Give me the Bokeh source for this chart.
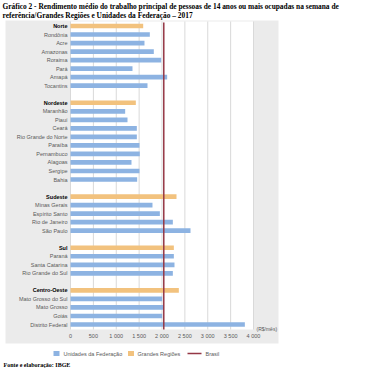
from bokeh.plotting import figure
from bokeh.models import Range1d, ColumnDataSource
from bokeh.core.properties import value
from bokeh.embed import file_html
from bokeh.resources import INLINE

# ---------------- data ----------------
regions = ["Norte", "Nordeste", "Sudeste", "Sul", "Centro-Oeste"]
region_values = [1589, 1428, 2317, 2259, 2368]
states_norte = ["Rondônia", "Acre", "Amazonas", "Roraima", "Pará", "Amapá", "Tocantins"]
values_norte = [1734, 1617, 1821, 1982, 1355, 2113, 1683]
states_nordeste = ["Maranhão", "Piauí", "Ceará", "Rio Grande do Norte", "Paraíba",
                   "Pernambuco", "Alagoas", "Sergipe", "Bahia"]
values_nordeste = [1195, 1246, 1450, 1450, 1508, 1515, 1333, 1508, 1457]
states_sudeste = ["Minas Gerais", "Espírito Santo", "Rio de Janeiro", "São Paulo"]
values_sudeste = [1792, 1953, 2237, 2623]
states_sul = ["Paraná", "Santa Catarina", "Rio Grande do Sul"]
values_sul = [2259, 2273, 2237]
states_co = ["Mato Grosso do Sul", "Mato Grosso", "Goiás", "Distrito Federal"]
values_co = [2004, 2040, 2004, 3811]
brasil = 2039
tick_values = [0, 500, 1000, 1500, 2000, 2500, 3000, 3500, 4000]
tick_labels = ["0", "500", "1 000", "1 500", "2 000", "2 500", "3 000", "3 500", "4 000"]
title_lines = ["Gráfico 2 - Rendimento médio do trabalho principal de pessoas de 14 anos ou mais ocupadas na semana de",
               "referência/Grandes Regiões e Unidades da Federação – 2017"]
unit_label = "(R$/mês)"
legend_labels = ["Unidades da Federação", "Grandes Regiões", "Brasil"]
footer = "Fonte e elaboração: IBGE"

BLUE = "#8db3e2"
ORANGE = "#f2c27e"
RED = "#953745"
GRAY_BG = "#ebebeb"
GRID = "#d9d9d9"
LABEL = "#595959"
SANS = value("Liberation Sans")
SERIF = value("Liberation Serif")

groups = [(values_norte, states_norte), (values_nordeste, states_nordeste),
          (values_sudeste, states_sudeste), (values_sul, states_sul), (values_co, states_co)]

# slot layout: region row, its states, then a gap row
bar_y, bar_v, bar_c = [], [], []
reg_y, st_y, st_names = [], [], []
pos = 0
for rname, rval, (svals, snames) in zip(regions, region_values, groups):
    bar_y.append(pos); bar_v.append(rval); bar_c.append(ORANGE); reg_y.append(pos)
    pos += 1
    for n, v in zip(snames, svals):
        bar_y.append(pos); bar_v.append(v); bar_c.append(BLUE); st_y.append(pos); st_names.append(n)
        pos += 1
    pos += 1
last = pos - 2

# ---------------- canvas geometry (pixels) ----------------
W, H = 366, 372
AX_LEFT, AX_RIGHT = 70, 253          # pixel positions of value 0 and value 4000
ROW0, ROWN = 25.5, 324.0             # pixel centres of first and last row
XMAX = tick_values[-1]


def xd(px):
    return (px - AX_LEFT) * XMAX / (AX_RIGHT - AX_LEFT)


def yd(py):
    return (py - ROW0) * last / (ROWN - ROW0)


p = figure(width=W, height=H, x_range=Range1d(xd(0), xd(W)), y_range=Range1d(yd(H), yd(0)),
           output_backend="svg", toolbar_location=None,
           x_axis_location=None, y_axis_location=None, min_border=0)
p.outline_line_color = None
p.grid.visible = False
p.background_fill_color = "white"
p.border_fill_color = "white"

# gray panel and white plot area
p.quad(left=[xd(5)], right=[xd(278)], top=[yd(20)], bottom=[yd(343)],
       fill_color=GRAY_BG, line_color=None)
plot_top, plot_bottom = yd(21), yd(329)
p.quad(left=[0], right=[XMAX], top=[plot_top], bottom=[plot_bottom],
       fill_color="white", line_color=None)

# vertical grid lines
p.segment(x0=tick_values, x1=tick_values, y0=[plot_top] * len(tick_values),
          y1=[plot_bottom] * len(tick_values), line_color=GRID, line_width=1)

# bars
src = ColumnDataSource(dict(y=bar_y, v=bar_v, c=bar_c))
p.hbar(y="y", left=0, right="v", height=0.55, fill_color="c", line_color=None, source=src)

# Brasil line
p.segment(x0=[brasil], x1=[brasil], y0=[yd(22)], y1=[plot_bottom], line_color=RED, line_width=1.5)

# category labels
p.text(x=[xd(67)] * len(st_y), y=st_y, text=st_names, text_align="right", text_baseline="middle",
       text_font=SANS, text_font_size="5.5px", text_color=LABEL)
p.text(x=[xd(67)] * len(reg_y), y=reg_y, text=regions, text_align="right", text_baseline="middle",
       text_font=SANS, text_font_size="5.5px", text_font_style="bold", text_color="black")

# x tick labels and unit
p.text(x=tick_values, y=[yd(335.5)] * len(tick_values), text=tick_labels, text_align="center",
       text_baseline="middle", text_font=SANS, text_font_size="5.5px", text_color=LABEL)
p.text(x=[xd(256)], y=[yd(328)], text=[unit_label], text_align="left", text_baseline="middle",
       text_font=SANS, text_font_size="5px", text_color=LABEL)

# title
p.text(x=[xd(2), xd(2)], y=[yd(6), yd(14.5)], text=title_lines, text_font=SERIF,
       text_font_style="bold", text_font_size="7.4px", text_color="black",
       text_baseline="middle", text_align="left")

# legend
leg_y = yd(353)
p.rect(x=[xd(56), xd(130.5)], y=[leg_y, leg_y], width=xd(6) - xd(0), height=yd(5) - yd(0),
       fill_color=[BLUE, ORANGE], line_color=None)
p.segment(x0=[xd(187)], y0=[leg_y], x1=[xd(201)], y1=[leg_y], line_color=RED, line_width=1.5)
p.text(x=[xd(63), xd(137), xd(205)], y=[leg_y] * 3, text=legend_labels, text_font=SANS,
       text_font_size="5.5px", text_color=LABEL, text_baseline="middle", text_align="left")

# footer
p.text(x=[xd(3)], y=[yd(364.5)], text=[footer], text_font=SERIF, text_font_style="bold",
       text_font_size="6px", text_color="black", text_baseline="middle", text_align="left")

open("out.html", "w").write(file_html(p, INLINE))
